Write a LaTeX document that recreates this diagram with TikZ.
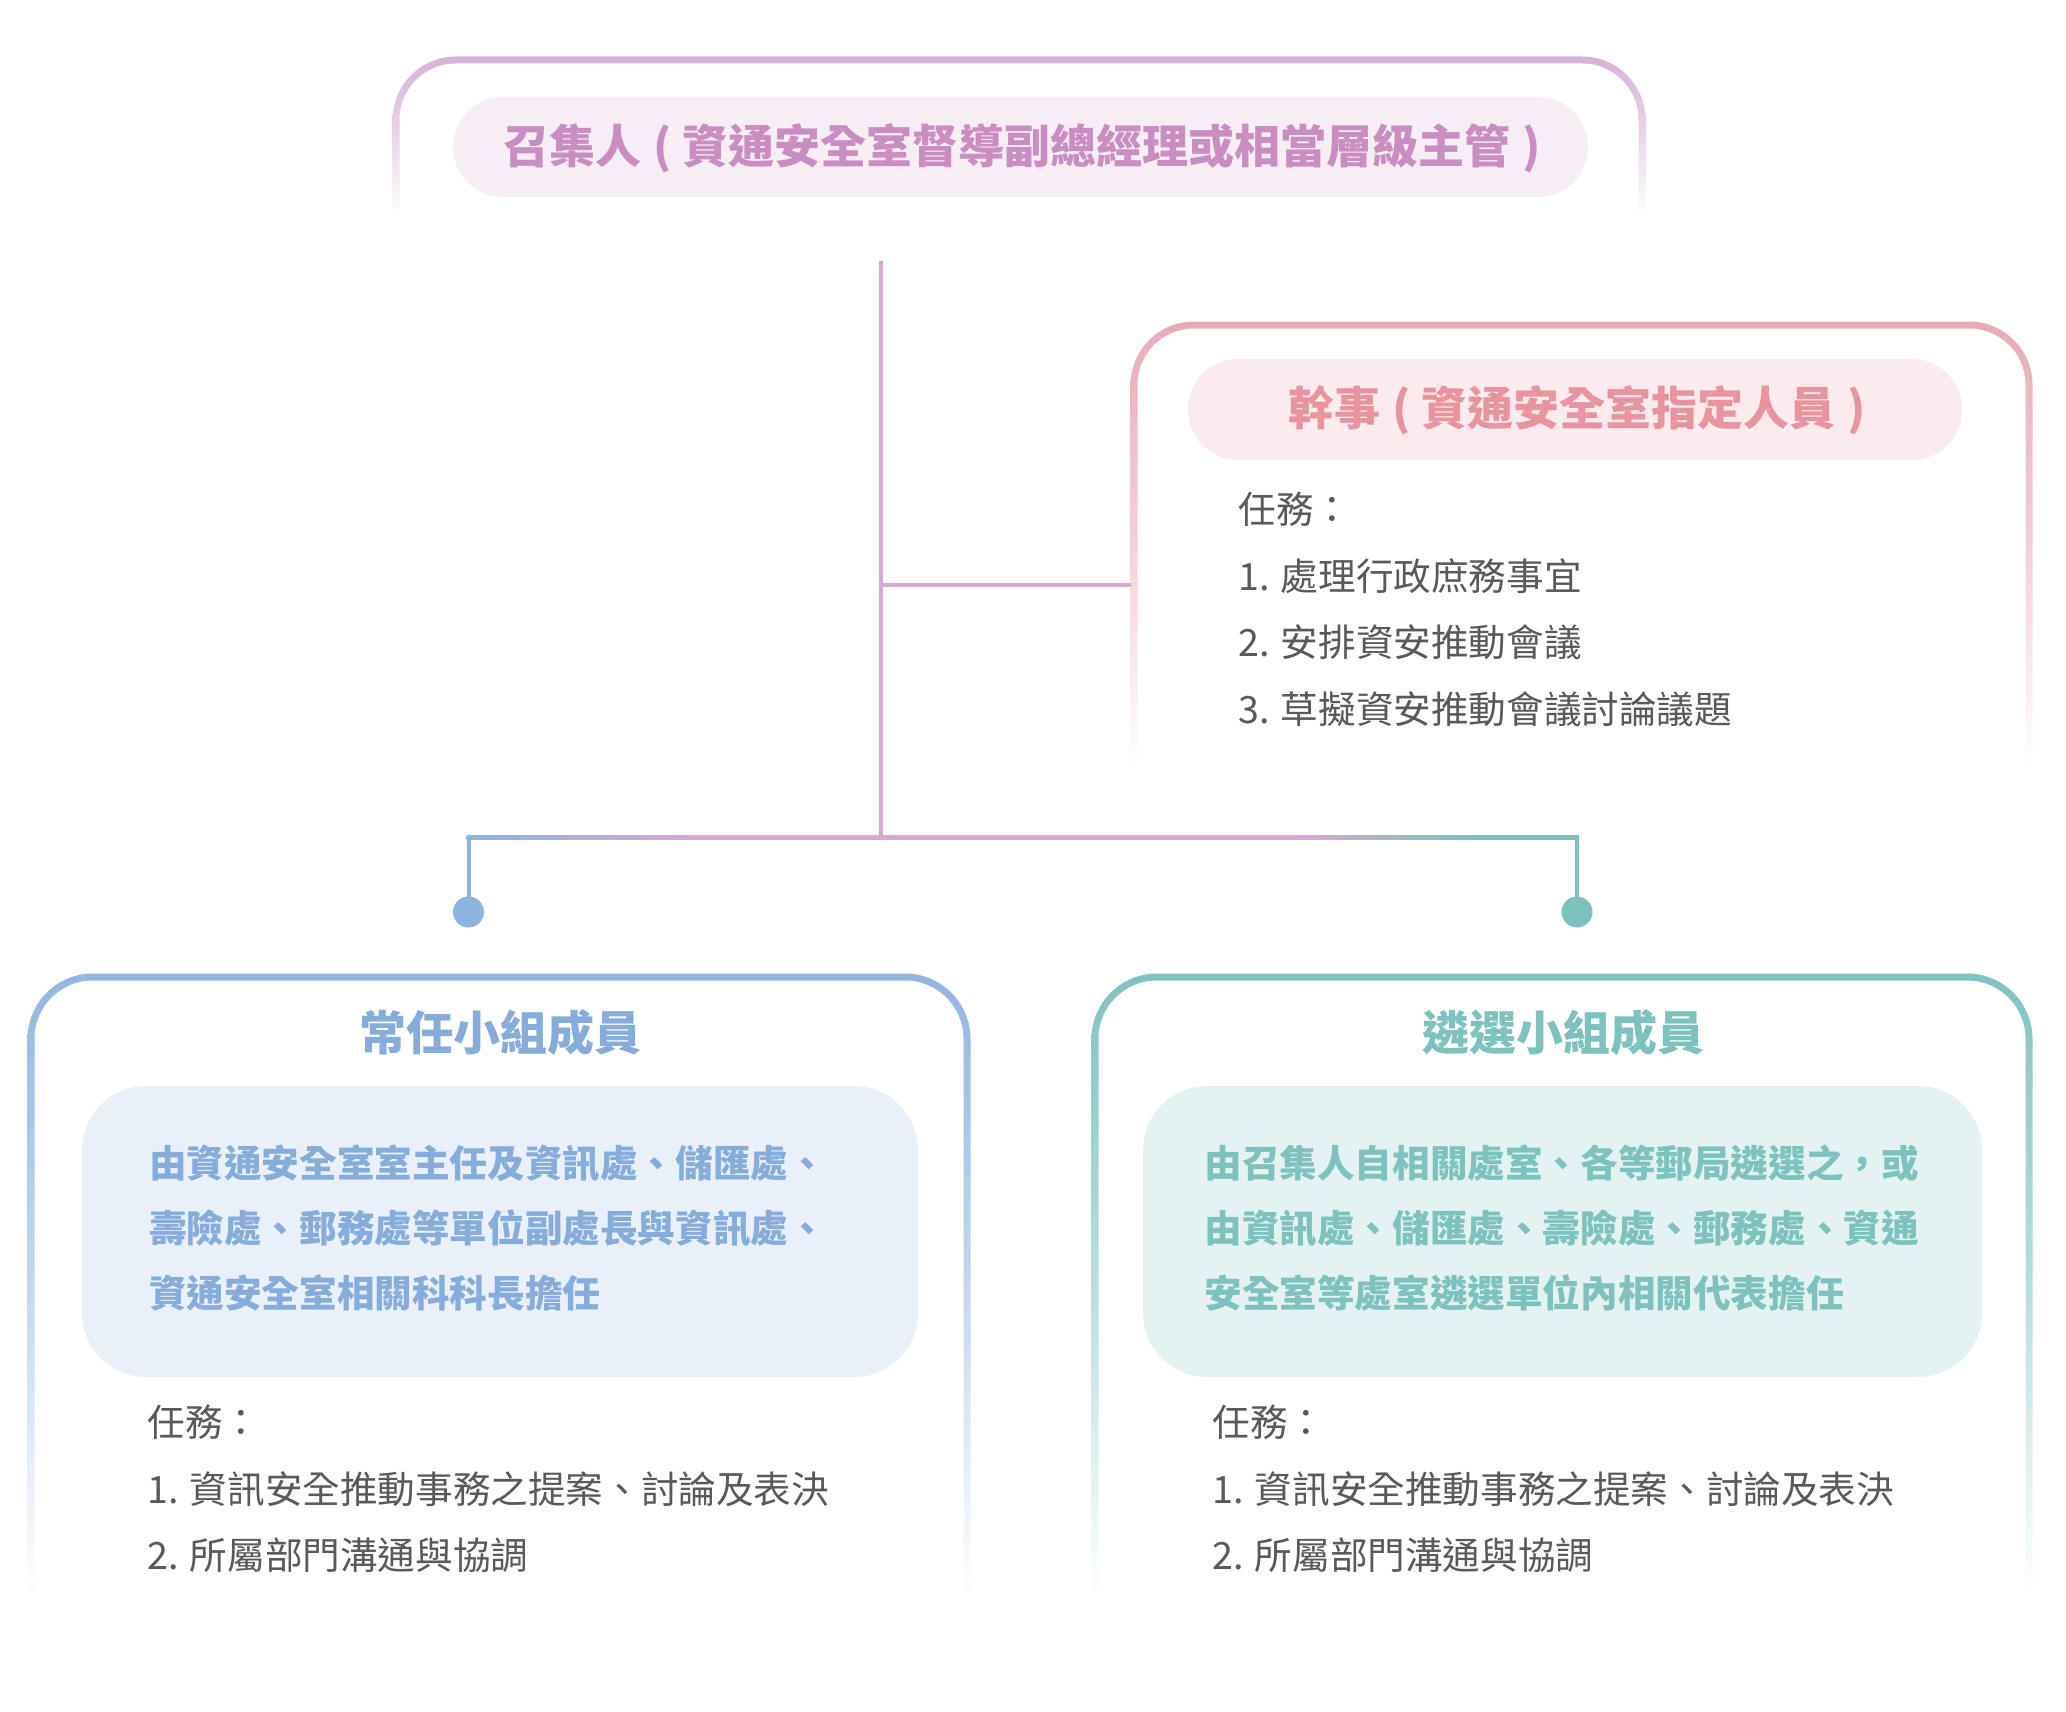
\documentclass[tikz,border=0pt]{standalone}
\usepackage{fontspec}
\setmainfont{Noto Sans CJK TC}
\usetikzlibrary{calc}
\definecolor{pframe}{HTML}{D6B3D6}
\definecolor{pfill}{HTML}{F6EDF5}
\definecolor{ptext}{HTML}{C98DC2}
\definecolor{kframe}{HTML}{E9AAB7}
\definecolor{kfill}{HTML}{FBEAEE}
\definecolor{ktext}{HTML}{E8949F}
\definecolor{bframe}{HTML}{92B6E0}
\definecolor{bfill}{HTML}{E9F0FA}
\definecolor{btext}{HTML}{85ACDA}
\definecolor{tframe}{HTML}{80C3C1}
\definecolor{tfill}{HTML}{E4F2F1}
\definecolor{ttext}{HTML}{7DC2BE}
\definecolor{taskgray}{HTML}{5A5858}
\definecolor{pline}{HTML}{D4AAD1}
\definecolor{bline}{HTML}{8DB3DF}
\definecolor{tline}{HTML}{7CC1BE}
\pgfdeclarehorizontalshading{barshade}{100bp}{color(0bp)=(bline); color(25.4bp)=(bline); color(35bp)=(pline); color(62.5bp)=(pline); color(70.6bp)=(tline); color(100bp)=(tline)}
\newcommand\gframe[7]{%
  \shade[top color=#1, bottom color=white, middle color=#1!55!white, rounded corners=#6]
    ({#2-3.5},#5) -- ({#2-3.5},{#4-3.5}) -- ({#3+3.5},{#4-3.5}) -- ({#3+3.5},#5);
  \fill[white, rounded corners=#7]
    ({#2+3.5},{#5+1}) -- ({#2+3.5},{#4+3.5}) -- ({#3-3.5},{#4+3.5}) -- ({#3-3.5},{#5+1});
}
\newcommand\lp{\makebox[0.9em]{(}}
\newcommand\rp{\makebox[0.9em]{)}}
\tikzset{
  heading/.style={font=\bfseries\fontsize{23.5}{28}\selectfont, inner sep=0pt},
  pilltitle/.style={font=\bfseries\fontsize{23}{28}\selectfont, inner sep=0pt},
  pill/.style={rounded corners=25pt, inner sep=0pt},
  bodyb/.style={font=\bfseries\fontsize{18.8}{22}\selectfont, anchor=west, inner sep=0pt},
  task/.style={font=\fontsize{18.8}{22}\selectfont, text=taskgray, anchor=west, inner sep=0pt},
  infobox/.style={rounded corners=32pt, minimum height=145.5pt, inner sep=0pt},
  conn/.style={line width=2pt},
  dot/.style={circle, minimum size=15.5pt, inner sep=0pt},
}
\begin{document}
\begin{tikzpicture}[x=0.5pt,y=-0.5pt]
\useasboundingbox (0,0) rectangle (2066,1712);
\fill[white] (0,0) rectangle (2066,1712);

% frames
\gframe{pframe}{396}{1642}{60}{215}{31.75pt}{28.25pt}
\gframe{kframe}{1134}{2029}{325}{768}{31.75pt}{28.25pt}
\gframe{bframe}{31}{967}{977}{1598}{32.75pt}{29.25pt}
\gframe{tframe}{1095}{2029}{977}{1598}{32.75pt}{29.25pt}

% convener
\node[pill, fill=pfill, minimum width=567.5pt, minimum height=50pt] (conv) at (1020.5,147) {};
\node[pilltitle, text=ptext] (convt) at (1028,148) {召集人\lp 資通安全室督導副總經理或相當層級主管\rp};

% secretary
\node[pill, fill=kfill, minimum width=387pt, minimum height=50.5pt] (sect) at (1575,409.5) {};
\node[pilltitle, text=ktext] (sectt) at (1583,410) {幹事\lp 資通安全室指定人員\rp};
\node[task] (k0) at (1238,509) {任務：};
\node[task] (k1) at (1238,576) {1. 處理行政庶務事宜};
\node[task] (k2) at (1238,642) {2. 安排資安推動會議};
\node[task] (k3) at (1238,709) {3. 草擬資安推動會議討論議題};

% standing members
\node[heading, text=btext] (bh) at (500,1033) {常任小組成員};
\node[infobox, fill=bfill, minimum width=418pt] (bbox) at (500,1231.5) {};
\node[bodyb, text=btext] (b1) at (148.6,1163) {由資通安全室室主任及資訊處、儲匯處、};
\node[bodyb, text=btext] (b2) at (148.6,1228) {壽險處、郵務處等單位副處長與資訊處、};
\node[bodyb, text=btext] (b3) at (148.6,1293) {資通安全室相關科科長擔任};
\node[task] (bt0) at (147,1422) {任務：};
\node[task] (bt1) at (147,1489) {1. 資訊安全推動事務之提案、討論及表決};
\node[task] (bt2) at (147,1555) {2. 所屬部門溝通與協調};

% selected members
\node[heading, text=ttext] (th) at (1563,1033) {遴選小組成員};
\node[infobox, fill=tfill, minimum width=419.5pt] (tbox) at (1562.5,1231.5) {};
\node[bodyb, text=ttext] (t1) at (1204,1163) {由召集人自相關處室、各等郵局遴選之，或};
\node[bodyb, text=ttext] (t2) at (1204,1228) {由資訊處、儲匯處、壽險處、郵務處、資通};
\node[bodyb, text=ttext] (t3) at (1204,1293) {安全室等處室遴選單位內相關代表擔任};
\node[task] (tt0) at (1212,1422) {任務：};
\node[task] (tt1) at (1212,1489) {1. 資訊安全推動事務之提案、討論及表決};
\node[task] (tt2) at (1212,1555) {2. 所屬部門溝通與協調};

% connectors
\coordinate (ctop) at (881,261);
\coordinate (cjunc) at (881,837);
\coordinate (csec) at (1131,585);
\node[dot, fill=bline] (dotL) at (468.5,912) {};
\node[dot, fill=tline] (dotR) at (1577,912) {};
\draw[conn, pline] (ctop) -- ($(cjunc)+(0,-2)$);
\draw[conn, pline] (ctop |- csec) -- (csec);
\draw[conn, bline] (dotL.center) -- ($(dotL |- cjunc)+(0,-1)$);
\draw[conn, tline] (dotR.center) -- ($(dotR |- cjunc)+(0,-1)$);
\shade[shading=barshade] ($(dotL |- cjunc)+(-2,-2)$) rectangle ($(dotR |- cjunc)+(2,2)$);
\end{tikzpicture}
\end{document}
